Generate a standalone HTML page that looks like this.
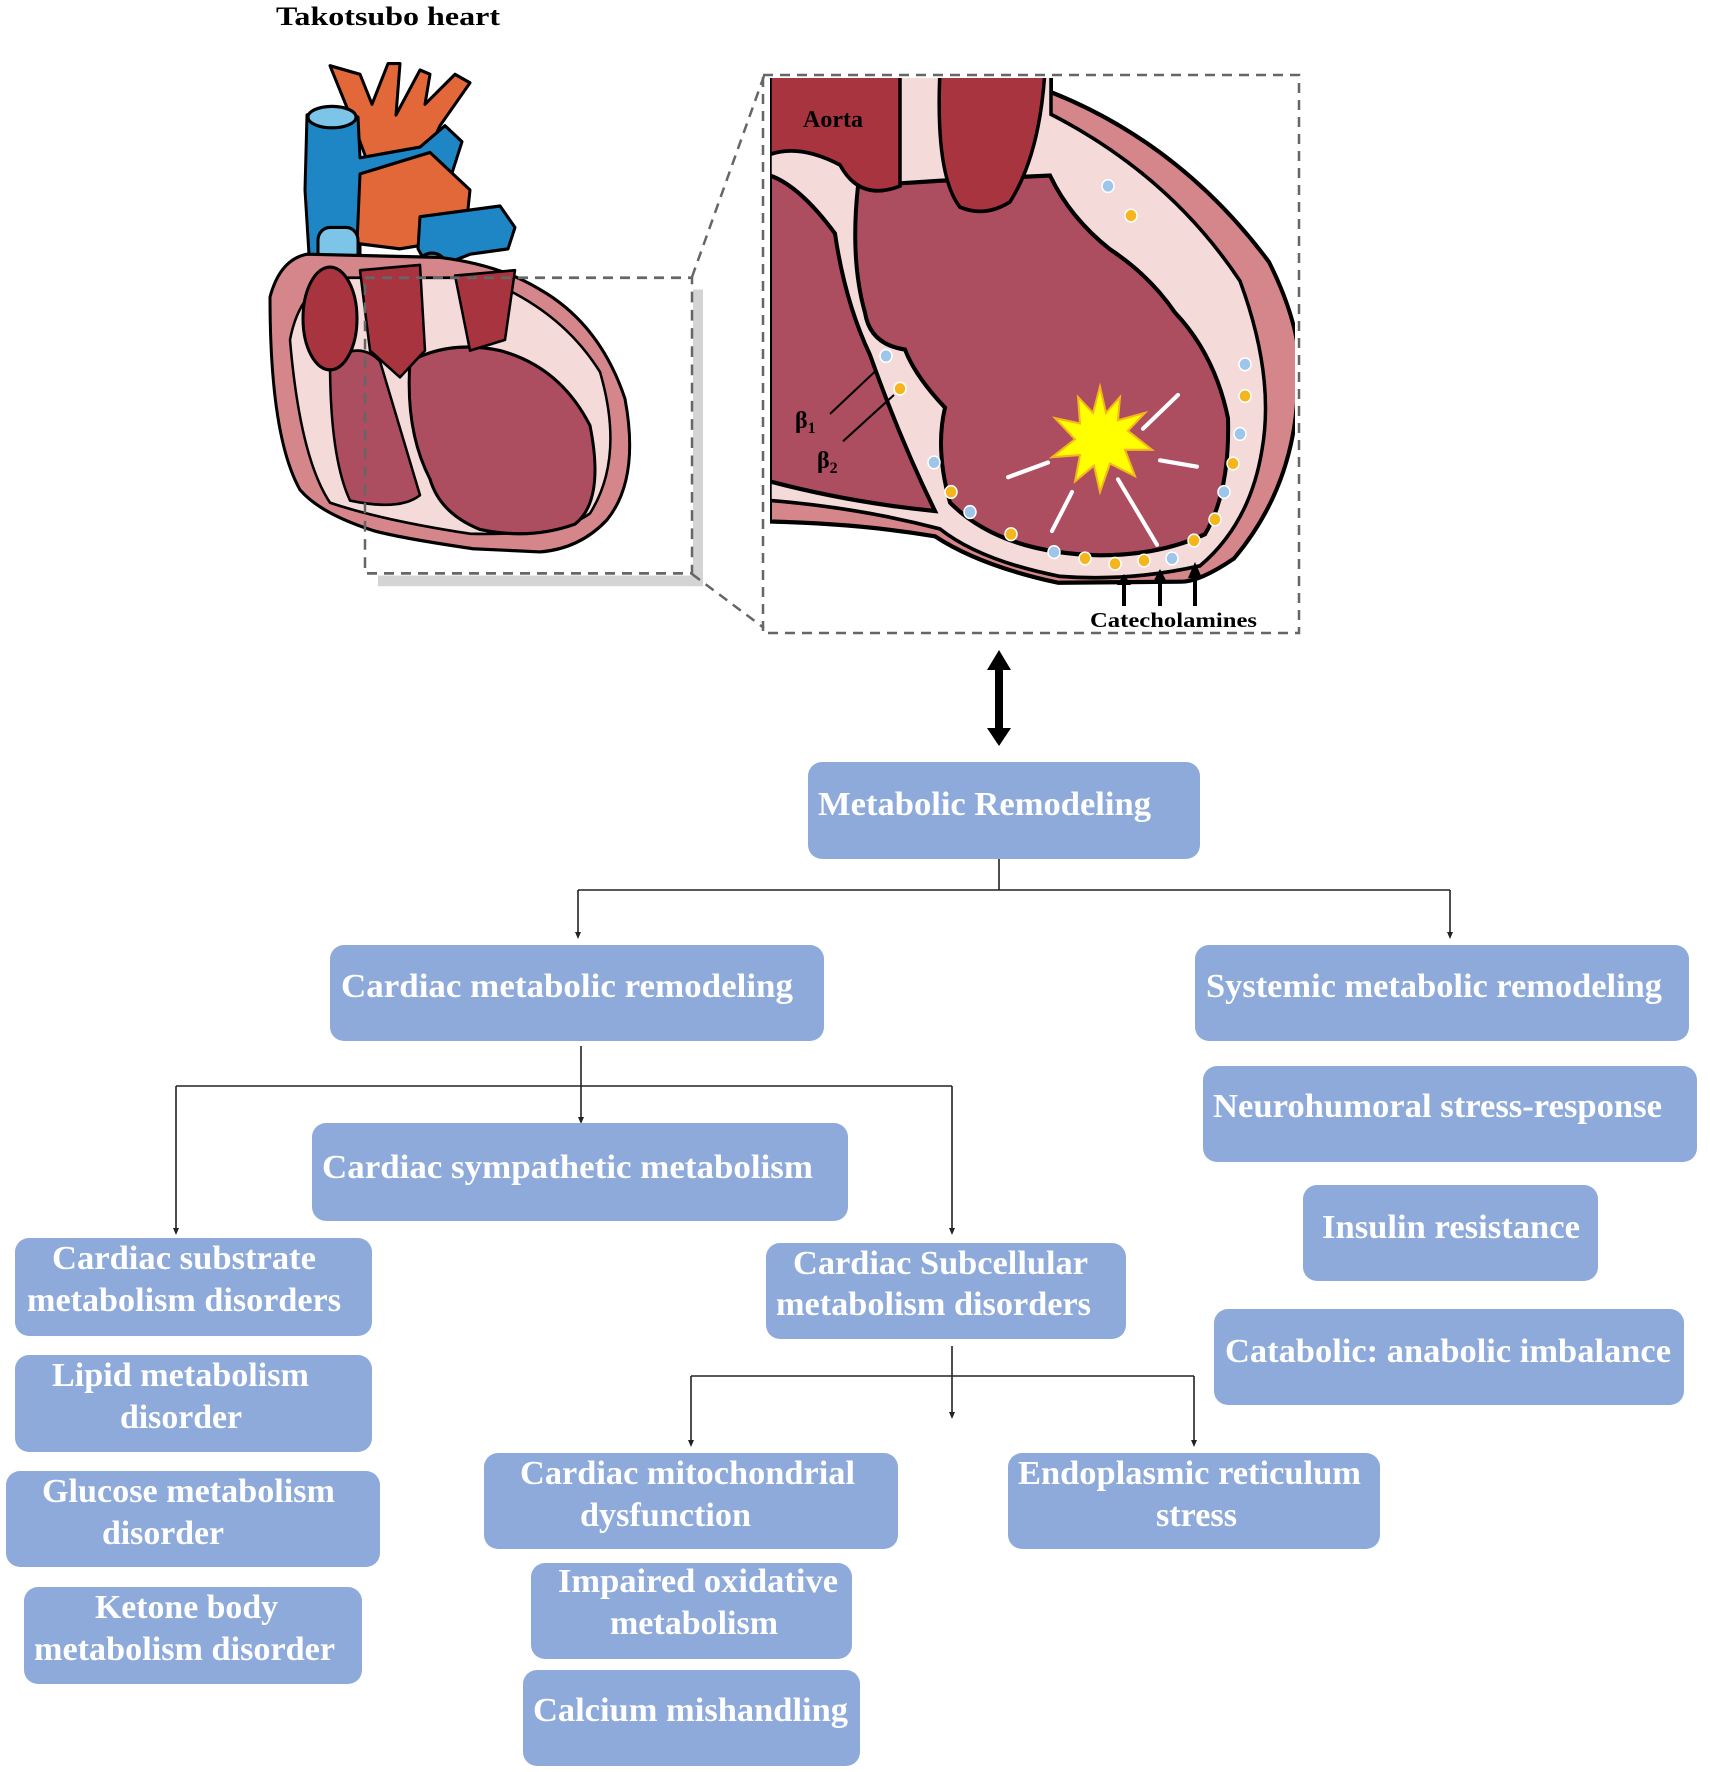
<!DOCTYPE html>
<html><head><meta charset="utf-8"><style>
html,body{margin:0;padding:0;background:#fff;}
svg{display:block;}
.b{fill:#8eaadb;}
.t{font-family:"Liberation Serif",serif;font-weight:bold;font-size:34px;fill:#fff;}
.ln{stroke:#222;stroke-width:1.6;fill:none;}
</style></head><body>
<svg width="1710" height="1772" viewBox="0 0 1710 1772" xmlns="http://www.w3.org/2000/svg">

<!-- Title -->
<text x="276" y="25" font-family="Liberation Serif,serif" font-weight="bold" font-size="26" fill="#000" textLength="224" lengthAdjust="spacingAndGlyphs">Takotsubo heart</text>

<g transform="translate(0,40) scale(1,1.071) translate(0,-40)">
<!-- Left heart -->
<g stroke="#000" stroke-width="3" stroke-linejoin="round">
<path d="M330,64 L360,72 L372,100 L388,62 L400,62 L396,110 L420,68 L430,72 L425,100 L455,72 L470,80 L440,120 L420,160 L370,160 L350,110 Z" fill="#e2683a"/>
<path d="M307,110 Q330,100 358,112 L360,150 L420,140 L445,120 L462,135 L450,170 L420,175 L360,190 L360,250 L310,255 L305,180 Z" fill="#1f86c6"/>
<ellipse cx="332" cy="112" rx="24" ry="10" fill="#7cc4e8"/>
<path d="M360,165 L430,145 L470,180 L465,225 L400,235 L357,230 Z" fill="#e2683a"/>
<path d="M420,205 L500,195 L515,215 L508,235 L470,240 L430,255 L418,235 Z" fill="#1f86c6"/>
<ellipse cx="432" cy="247" rx="12" ry="8" fill="#7cc4e8"/>
<rect x="318" y="215" width="40" height="45" rx="12" fill="#7cc4e8"/>
<path d="M270,280 Q280,245 307,240 L440,243 Q500,250 540,273 Q600,305 625,375 Q640,450 607,488 Q580,515 540,518 L473,515 Q400,505 373,498 Q320,482 300,460 Q270,410 270,280 Z" fill="#d4868a"/>
<path d="M290,320 Q300,270 340,262 L480,262 Q560,290 600,350 Q625,430 590,482 Q560,503 470,501 Q380,488 330,472 Q300,430 290,320 Z" fill="#f5dada" stroke-width="2.5"/>
<path d="M410,340 Q450,320 500,330 Q560,345 590,400 Q605,470 575,492 Q530,507 480,497 Q440,482 430,450 Q405,405 410,340 Z" fill="#ad4d60"/>
<path d="M330,340 Q360,320 380,340 L420,465 Q400,480 350,470 Q330,430 330,340 Z" fill="#ad4d60" stroke-width="2.5"/>
<ellipse cx="330" cy="300" rx="27" ry="48" fill="#a8343f"/>
<path d="M360,255 L420,250 L425,330 L400,355 L370,330 Z" fill="#a8343f" stroke-width="2.5"/>
<path d="M455,260 L515,255 L505,320 L470,330 Z" fill="#a8343f" stroke-width="2.5"/>
</g>
<rect x="693" y="273" width="10" height="277" fill="#d4d4d4"/>
<rect x="378" y="540" width="325" height="10" fill="#d4d4d4"/>
<rect x="365" y="262" width="327" height="276" fill="none" stroke="#666" stroke-width="2.5" stroke-dasharray="10,7"/>
</g>
<line x1="692" y1="277" x2="764" y2="76" stroke="#666" stroke-width="2.5" stroke-dasharray="10,7"/>
<line x1="692" y1="574" x2="764" y2="628" stroke="#666" stroke-width="2.5" stroke-dasharray="10,7"/>

<!-- Inset -->
<clipPath id="ic"><rect x="770" y="78" width="525" height="553"/></clipPath>
<g clip-path="url(#ic)">
<g transform="translate(0,70) scale(1,1.055) translate(0,-70)">
<path d="M770,70 L1051,70 L1051,91 Q1181,140 1269,252 Q1310,330 1297,386 Q1290,470 1234,533 Q1200,555 1181,555 L1058,556 Q980,540 935,512 Q860,500 770,498 Z" fill="#d4868a" stroke="#000" stroke-width="4"/>
<path d="M770,70 L1051,70 L1051,112 Q1170,170 1240,270 Q1275,360 1262,430 Q1250,500 1200,540 Q1130,555 1060,550 Q980,535 940,505 Q860,485 770,478 Z" fill="#f5dada" stroke="#000" stroke-width="3.5"/>
<path d="M858,180 L940,175 L1050,170 Q1070,210 1110,240 Q1150,265 1175,300 Q1215,340 1228,400 Q1230,470 1205,510 Q1160,530 1100,530 Q1000,528 950,480 Q935,430 945,390 Q915,360 905,335 Q870,330 865,300 Q850,250 858,180 Z" fill="#ad4d60" stroke="#000" stroke-width="4"/>
<path d="M770,170 Q800,180 835,225 Q845,290 870,340 Q900,420 935,488 Q850,480 770,460 Z" fill="#ad4d60" stroke="#000" stroke-width="4"/>
<path d="M770,70 L900,70 L900,180 Q860,195 840,160 Q800,140 770,150 Z" fill="#a8343f" stroke="#000" stroke-width="3.5"/>
<path d="M940,70 L1045,70 Q1040,150 1010,195 Q985,210 960,200 Q935,170 940,70 Z" fill="#a8343f" stroke="#000" stroke-width="3.5"/>
</g>
</g>
<rect x="763" y="75" width="536" height="558" fill="none" stroke="#666" stroke-width="2.5" stroke-dasharray="10,7"/>
<text x="803" y="127" font-family="Liberation Serif,serif" font-weight="bold" font-size="24" fill="#000">Aorta</text>
<g transform="translate(0,70) scale(1,1.055) translate(0,-70)">
<g stroke="#fff" stroke-width="1.5">
<circle cx="1108" cy="180" r="6" fill="#9ec6ea"/><circle cx="1131" cy="208" r="6" fill="#f5b51c"/>
<circle cx="886" cy="341" r="6" fill="#9ec6ea"/><circle cx="900" cy="372" r="6" fill="#f5b51c"/>
<circle cx="934" cy="442" r="6" fill="#9ec6ea"/><circle cx="951" cy="470" r="6" fill="#f5b51c"/>
<circle cx="970" cy="489" r="6" fill="#9ec6ea"/><circle cx="1011" cy="510" r="6" fill="#f5b51c"/>
<circle cx="1054" cy="527" r="6" fill="#9ec6ea"/><circle cx="1085" cy="533" r="6" fill="#f5b51c"/>
<circle cx="1115" cy="538" r="6" fill="#f5b51c"/><circle cx="1144" cy="535" r="6" fill="#f5b51c"/>
<circle cx="1172" cy="533" r="6" fill="#9ec6ea"/><circle cx="1194" cy="516" r="6" fill="#f5b51c"/>
<circle cx="1215" cy="496" r="6" fill="#f5b51c"/><circle cx="1224" cy="470" r="6" fill="#9ec6ea"/>
<circle cx="1233" cy="443" r="6" fill="#f5b51c"/><circle cx="1240" cy="415" r="6" fill="#9ec6ea"/>
<circle cx="1245" cy="379" r="6" fill="#f5b51c"/><circle cx="1245" cy="349" r="6" fill="#9ec6ea"/>
</g>
<line x1="830" y1="396" x2="877" y2="354" stroke="#000" stroke-width="2"/>
<line x1="843" y1="422" x2="894" y2="378" stroke="#000" stroke-width="2"/>
<polygon points="1100,370 1106,395 1120,380 1118,402 1145,395 1128,412 1152,430 1125,430 1135,455 1110,443 1100,470 1094,445 1075,460 1080,435 1052,437 1075,420 1055,400 1080,405 1078,380 1093,395" fill="#ffff00" stroke="#f5b51c" stroke-width="2"/>
<g stroke="#fff" stroke-width="4" stroke-linecap="round">
<line x1="1143" y1="410" x2="1178" y2="378"/><line x1="1160" y1="440" x2="1197" y2="446"/>
<line x1="1048" y1="442" x2="1008" y2="456"/><line x1="1072" y1="470" x2="1052" y2="507"/>
<line x1="1118" y1="458" x2="1157" y2="520"/>
</g>
</g>
<text x="795" y="428" font-family="Liberation Serif,serif" font-weight="bold" font-size="24">β<tspan font-size="16" dy="5">1</tspan></text>
<text x="817" y="468" font-family="Liberation Serif,serif" font-weight="bold" font-size="24">β<tspan font-size="16" dy="5">2</tspan></text>
<g fill="#000"><path d="M1122,606 L1122,585 L1117,585 L1124,574 L1131,585 L1126,585 L1126,606Z"/>
<path d="M1158,606 L1158,582 L1153,582 L1160,569 L1167,582 L1162,582 L1162,606Z"/>
<path d="M1193,606 L1193,578 L1188,578 L1195,562 L1202,578 L1197,578 L1197,606Z"/></g>
<text x="1090" y="627" font-family="Liberation Serif,serif" font-weight="bold" font-size="21" textLength="167" lengthAdjust="spacingAndGlyphs">Catecholamines</text>

<path d="M999,650 L1011,670 L1003,670 L1003,728 L1011,728 L999,746 L987,728 L995,728 L995,670 L987,670 Z" fill="#000"/>

<path class="ln" d="M999,859 V890 M578,890 H1450 M578,890 V934 M1450,890 V934"/>
<path d="M575,932 L578,939 L581,932Z M1447,932 L1450,939 L1453,932Z" fill="#222"/>
<path class="ln" d="M581,1046 V1119 M176,1086 H952 M176,1086 V1230 M952,1086 V1230"/>
<path d="M578,1117 L581,1124 L584,1117Z M173,1228 L176,1235 L179,1228Z M949,1228 L952,1235 L955,1228Z" fill="#222"/>
<path class="ln" d="M952,1346 V1414 M691,1376 H1194 M691,1376 V1442 M1194,1376 V1442"/>
<path d="M949,1412 L952,1419 L955,1412Z M688,1440 L691,1447 L694,1440Z M1191,1440 L1194,1447 L1197,1440Z" fill="#222"/>

<rect class="b" x="808" y="762" width="392" height="97" rx="14"/>
<rect class="b" x="330" y="945" width="494" height="96" rx="14"/>
<rect class="b" x="1195" y="945" width="494" height="96" rx="14"/>
<rect class="b" x="1203" y="1066" width="494" height="96" rx="14"/>
<rect class="b" x="1303" y="1185" width="295" height="96" rx="14"/>
<rect class="b" x="1214" y="1309" width="470" height="96" rx="14"/>
<rect class="b" x="312" y="1123" width="536" height="98" rx="14"/>
<rect class="b" x="15" y="1238" width="357" height="98" rx="14"/>
<rect class="b" x="15" y="1355" width="357" height="97" rx="14"/>
<rect class="b" x="6" y="1471" width="374" height="96" rx="14"/>
<rect class="b" x="24" y="1587" width="338" height="97" rx="14"/>
<rect class="b" x="766" y="1243" width="360" height="96" rx="14"/>
<rect class="b" x="484" y="1453" width="414" height="96" rx="14"/>
<rect class="b" x="1008" y="1453" width="372" height="96" rx="14"/>
<rect class="b" x="531" y="1563" width="321" height="96" rx="14"/>
<rect class="b" x="523" y="1670" width="337" height="96" rx="14"/>

<text class="t" x="818" y="815" textLength="333" lengthAdjust="spacingAndGlyphs">Metabolic Remodeling</text>
<text class="t" x="341" y="997" textLength="452" lengthAdjust="spacingAndGlyphs">Cardiac metabolic  remodeling</text>
<text class="t" x="1206" y="997" textLength="456" lengthAdjust="spacingAndGlyphs">Systemic metabolic remodeling</text>
<text class="t" x="1213" y="1117" textLength="449" lengthAdjust="spacingAndGlyphs">Neurohumoral stress-response</text>
<text class="t" x="1322" y="1238" textLength="258" lengthAdjust="spacingAndGlyphs">Insulin resistance</text>
<text class="t" x="1225" y="1362" textLength="446" lengthAdjust="spacingAndGlyphs">Catabolic: anabolic imbalance</text>
<text class="t" x="322" y="1178" textLength="491" lengthAdjust="spacingAndGlyphs">Cardiac  sympathetic metabolism</text>
<text class="t" x="52" y="1269" textLength="264" lengthAdjust="spacingAndGlyphs">Cardiac substrate</text>
<text class="t" x="27" y="1311" textLength="314" lengthAdjust="spacingAndGlyphs">metabolism disorders</text>
<text class="t" x="52" y="1386" textLength="257" lengthAdjust="spacingAndGlyphs">Lipid metabolism</text>
<text class="t" x="120" y="1428" textLength="122" lengthAdjust="spacingAndGlyphs">disorder</text>
<text class="t" x="42" y="1502" textLength="293" lengthAdjust="spacingAndGlyphs">Glucose metabolism</text>
<text class="t" x="102" y="1544" textLength="122" lengthAdjust="spacingAndGlyphs">disorder</text>
<text class="t" x="95" y="1618" textLength="183" lengthAdjust="spacingAndGlyphs">Ketone body</text>
<text class="t" x="34" y="1660" textLength="301" lengthAdjust="spacingAndGlyphs">metabolism disorder</text>
<text class="t" x="793" y="1274" textLength="295" lengthAdjust="spacingAndGlyphs">Cardiac Subcellular</text>
<text class="t" x="776" y="1315" textLength="315" lengthAdjust="spacingAndGlyphs">metabolism disorders</text>
<text class="t" x="520" y="1484" textLength="335" lengthAdjust="spacingAndGlyphs">Cardiac mitochondrial</text>
<text class="t" x="580" y="1526" textLength="171" lengthAdjust="spacingAndGlyphs">dysfunction</text>
<text class="t" x="1018" y="1484" textLength="343" lengthAdjust="spacingAndGlyphs">Endoplasmic reticulum</text>
<text class="t" x="1156" y="1526" textLength="81" lengthAdjust="spacingAndGlyphs">stress</text>
<text class="t" x="558" y="1592" textLength="280" lengthAdjust="spacingAndGlyphs">Impaired oxidative</text>
<text class="t" x="610" y="1634" textLength="168" lengthAdjust="spacingAndGlyphs">metabolism</text>
<text class="t" x="533" y="1721" textLength="315" lengthAdjust="spacingAndGlyphs">Calcium mishandling</text>
</svg>
</body></html>
